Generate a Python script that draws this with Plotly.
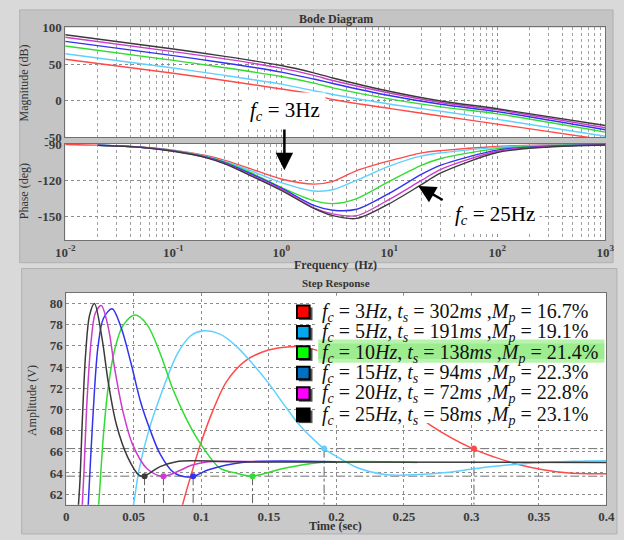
import plotly.graph_objects as go

W, H = 624, 540

# ---------------- Bode data ----------------
freq_mag = [0.01, 0.1, 0.3, 1, 2, 3, 10, 30, 100, 1000]
mag_red = [56.6, 37.5, 27.5, 16, 8.5, 1.5, -10.5, -21, -32, -53.5]
mag_cyan = [64, 44.5, 34.5, 22.5, 13.5, 8.5, -4.5, -14.5, -25.5, -48.6]
mag_green = [74.7, 55, 45, 33, 24, 17.5, 2.5, -8.5, -18, -42.9]
mag_blue = [81, 61.5, 51.5, 39, 29.5, 23.5, 7, -5, -15, -39.8]
mag_magenta = [86.6, 67, 57, 44.5, 34.5, 27.5, 10.5, -2.5, -12.6, -37]
mag_black = [90, 70.5, 60.5, 48, 38, 31, 12.8, -0.5, -11, -34]

freq_ph = [0.01, 0.02, 0.05, 0.1, 0.2, 0.3, 0.5, 1, 2, 3, 5, 10, 20, 30, 100, 300, 1000]
ph_red = [-90.3, -90.9, -92.4, -95.0, -99.5, -103.5, -110, -119, -123.3, -121, -112, -104, -97.3, -95.4, -92, -90.8, -90.3]
ph_cyan = [-90.3, -91.0, -92.5, -95.2, -100, -104.5, -111.5, -122, -129, -128, -120, -108.3, -99.8, -97.3, -92.7, -91, -90.4]
ph_green = [-90.3, -91.0, -92.6, -95.5, -100.5, -105, -113, -126, -137, -139.5, -135.3, -121, -107.5, -102, -93.8, -91.3, -90.5]
ph_blue = [-90.3, -91.0, -92.6, -95.6, -100.7, -105.5, -114, -126.6, -141, -145, -144.2, -131, -115, -107.5, -95, -91.7, -90.6]
ph_magenta = [-90.3, -91.1, -92.7, -95.8, -101, -106, -115, -127.5, -143, -148, -149.5, -136, -120, -111, -96, -92, -90.7]
ph_black = [-90.3, -91.1, -92.7, -96.0, -101.2, -106.5, -115.5, -128.5, -143.5, -149.5, -151.8, -139.5, -123.5, -114, -97, -92.4, -90.8]

freq_ticks = [0.01, 0.1, 1, 10, 100, 1000]
freq_ticktext = ["10<sup>-2</sup>", "10<sup>-1</sup>", "10<sup>0</sup>", "10<sup>1</sup>", "10<sup>2</sup>", "10<sup>3</sup>"]
mag_ticks = [100, 50, 0, -50]
ph_ticks = [-90, -120, -150]

# ---------------- Step response data ----------------
t_red = [0.083, 0.0862, 0.0922, 0.0994, 0.109, 0.1186, 0.1329, 0.1497, 0.1641, 0.175, 0.19, 0.21, 0.23, 0.25, 0.2694, 0.301, 0.3173, 0.3365, 0.3532, 0.3724, 0.4]
v_red = [59.0, 61.0, 63.7, 66.7, 70.0, 72.6, 74.6, 75.6, 75.9, 75.9, 75.4, 74.2, 72.5, 70.5, 68.55, 66.3, 65.5, 64.75, 64.3, 64.0, 63.92]
t_cyan = [0.047, 0.0498, 0.0539, 0.0611, 0.0707, 0.0826, 0.0922, 0.1006, 0.1138, 0.1257, 0.1377, 0.1497, 0.1616, 0.1736, 0.188, 0.1909, 0.2024, 0.2167, 0.236, 0.2503, 0.2814, 0.3053, 0.3412, 0.377, 0.4]
v_cyan = [59.5, 61.0, 64.3, 68.0, 71.6, 75.3, 76.95, 77.4, 77.1, 76.0, 74.35, 72.5, 70.4, 68.4, 66.6, 66.3, 65.4, 64.45, 63.85, 63.8, 64.05, 64.45, 64.9, 65.1, 65.15]
t_green = [0.0225, 0.024, 0.0276, 0.0312, 0.036, 0.042, 0.0508, 0.0599, 0.0695, 0.079, 0.0886, 0.0982, 0.1138, 0.1257, 0.1372, 0.1616, 0.188, 0.26]
v_green = [59.0, 61.0, 67.65, 72.2, 75.7, 77.9, 78.9, 78.0, 75.3, 71.9, 69.2, 67.0, 64.45, 64.0, 63.7, 64.45, 65.0, 65.0]
t_blue = [0.0155, 0.0163, 0.0197, 0.0235, 0.0276, 0.034, 0.0407, 0.0479, 0.0551, 0.0623, 0.0695, 0.079, 0.089, 0.0946, 0.1054, 0.13, 0.2]
v_blue = [59.5, 61.0, 69.2, 75.9, 78.6, 79.5, 77.7, 74.4, 70.7, 68.0, 65.8, 64.1, 63.62, 63.7, 64.3, 65.0, 65.05]
t_magenta = [0.0115, 0.0132, 0.0156, 0.0187, 0.0216, 0.0259, 0.0312, 0.036, 0.042, 0.0491, 0.0599, 0.0718, 0.0934, 0.1054, 0.15]
v_magenta = [60.0, 64.3, 71.3, 76.8, 79.1, 79.8, 77.7, 73.75, 69.8, 66.7, 64.4, 63.7, 64.75, 65.05, 65.05]
t_black = [0.0085, 0.0101, 0.012, 0.0144, 0.0173, 0.0209, 0.0264, 0.0312, 0.0371, 0.0455, 0.0539, 0.0575, 0.0695, 0.0815, 0.095, 0.13, 0.4]
v_black = [60.0, 63.1, 69.2, 75.3, 78.9, 80.0, 76.8, 72.5, 68.6, 65.5, 63.8, 63.7, 64.6, 65.06, 65.15, 65.05, 65.0]

fc_hz = [3, 5, 10, 15, 20, 25]
ts_ms = [302, 191, 138, 94, 72, 58]
mp_pct = [16.7, 19.1, 21.4, 22.3, 22.8, 23.1]
ts_level = [66.3, 66.3, 63.7, 63.7, 63.7, 63.7]
band_upper = 66.3
band_lower = 63.7

line_colors = ["#ff4a4a", "#5fd0ff", "#2fdc2f", "#3232f0", "#cc3ccc", "#3a3a3a"]
square_colors = ["#ff0000", "#00a8f0", "#00ff00", "#0070c0", "#ff00ff", "#000000"]

mag_series = [mag_red, mag_cyan, mag_green, mag_blue, mag_magenta, mag_black]
ph_series = [ph_red, ph_cyan, ph_green, ph_blue, ph_magenta, ph_black]
t_series = [t_red, t_cyan, t_green, t_blue, t_magenta, t_black]
v_series = [v_red, v_cyan, v_green, v_blue, v_magenta, v_black]


def px(x):
    return x / W


def py(y):
    return 1 - y / H


# plot-area pixel boxes (x0, x1, ytop, ybottom)
BOX_MAG = (57, 614, 21, 134)
BOX_PH = (57, 614, 141, 240)
BOX_STEP = (58, 615, 294, 512)

fig = go.Figure()

# Bode magnitude / phase
for i in range(6):
    fig.add_trace(go.Scatter(x=freq_mag, y=mag_series[i], mode="lines", xaxis="x", yaxis="y",
                             line=dict(color=line_colors[i], width=1.4, shape="spline", smoothing=0.8),
                             hoverinfo="skip", showlegend=False))
for i in range(6):
    fx = freq_ph if i == 0 else freq_ph[1:]
    fy = ph_series[i] if i == 0 else ph_series[i][1:]
    fig.add_trace(go.Scatter(x=fx, y=fy, mode="lines", xaxis="x2", yaxis="y2",
                             line=dict(color=line_colors[i], width=1.4, shape="spline", smoothing=0.8),
                             hoverinfo="skip", showlegend=False))

# Step response: settling band lines
fig.add_trace(go.Scatter(x=[0, 0.4, None, 0, 0.4], y=[band_upper, band_upper, None, band_lower, band_lower],
                         mode="lines", xaxis="x3", yaxis="y3",
                         line=dict(color="#707070", width=1, dash="dashdot"), hoverinfo="skip", showlegend=False))
vx, vy = [], []
for t, v in zip(ts_ms, ts_level):
    vx += [t / 1000, t / 1000, None]
    vy += [v, 61, None]
fig.add_trace(go.Scatter(x=vx, y=vy, mode="lines", xaxis="x3", yaxis="y3",
                         line=dict(color="#606060", width=1, dash="dashdot"), hoverinfo="skip", showlegend=False))

for i in range(6):
    fig.add_trace(go.Scatter(x=t_series[i], y=v_series[i], mode="lines", xaxis="x3", yaxis="y3",
                             line=dict(color=line_colors[i], width=1.5, shape="spline", smoothing=0.9),
                             hoverinfo="skip", showlegend=False))
for i in range(6):
    fig.add_trace(go.Scatter(x=[ts_ms[i] / 1000], y=[ts_level[i]], mode="markers", xaxis="x3", yaxis="y3",
                             marker=dict(color=line_colors[i], size=6), hoverinfo="skip", showlegend=False))

tickfont = dict(family="Liberation Serif", size=13, color="#3c3c3c", weight="bold")
grid_major = dict(showgrid=True, gridcolor="#8c8c8c", griddash="dot", gridwidth=1)
axline = dict(showline=True, mirror=True, linecolor="#707070", linewidth=1, zeroline=False)
minor_log = dict(dtick="D1", showgrid=True, gridcolor="#a0a0a0", griddash="dot", ticks="")

fig.update_layout(
    width=W, height=H, margin=dict(l=0, r=0, t=0, b=0),
    paper_bgcolor="#d9d9d9", plot_bgcolor="#ffffff",
    xaxis=dict(domain=[px(BOX_MAG[0]), px(BOX_MAG[1])], type="log", range=[-2, 3], anchor="y",
               tickvals=freq_ticks, ticktext=freq_ticktext, showticklabels=False,
               minor=minor_log, **grid_major, **axline),
    yaxis=dict(domain=[py(BOX_MAG[3]), py(BOX_MAG[2])], range=[-50, 100], anchor="x",
               tickvals=mag_ticks, ticktext=[str(v) for v in mag_ticks], tickfont=tickfont,
               **grid_major, **axline),
    xaxis2=dict(domain=[px(BOX_PH[0]), px(BOX_PH[1])], type="log", range=[-2, 3], anchor="y2",
                tickvals=freq_ticks, ticktext=freq_ticktext, tickfont=tickfont,
                minor=minor_log, **grid_major, **axline),
    yaxis2=dict(domain=[py(BOX_PH[3]), py(BOX_PH[2])], range=[-170, -90], anchor="x2",
                tickvals=ph_ticks, ticktext=[str(v) for v in ph_ticks], tickfont=tickfont,
                **grid_major, **axline),
    xaxis3=dict(domain=[px(BOX_STEP[0]), px(BOX_STEP[1])], range=[0, 0.4], anchor="y3", dtick=0.05, tick0=0,
                tickfont=tickfont, **grid_major, **axline),
    yaxis3=dict(domain=[py(BOX_STEP[3]), py(BOX_STEP[2])], range=[61, 81], anchor="x3", dtick=2, tick0=62,
                tickfont=tickfont, **grid_major, **axline),
)

shapes = [
    # panels
    dict(type="rect", xref="paper", yref="paper", x0=px(10), x1=px(622), y0=py(263), y1=py(3),
         fillcolor="#c4c4c4", line=dict(color="#b0b0b0", width=1), layer="below"),
    dict(type="rect", xref="paper", yref="paper", x0=px(12), x1=px(626), y0=py(542), y1=py(269),
         fillcolor="#c9c9c9", line=dict(color="#b0b0b0", width=1), layer="below"),
]
for b in (BOX_MAG, BOX_PH, BOX_STEP):
    shapes.append(dict(type="rect", xref="paper", yref="paper", x0=px(b[0]), x1=px(b[1]),
                       y0=py(b[3]), y1=py(b[2]), fillcolor="#ffffff", line=dict(width=0), layer="below"))
shapes += [
    # legend white box
    dict(type="rect", xref="paper", yref="paper", x0=px(317), x1=px(612), y0=py(428), y1=py(297),
         fillcolor="#ffffff", line=dict(width=0), layer="above"),
    # highlighted row
    dict(type="rect", xref="paper", yref="paper", x0=px(318), x1=px(613), y0=py(366), y1=py(342),
         fillcolor="#b8f3ae", line=dict(width=0), layer="above"),
    dict(type="rect", xref="paper", yref="paper", x0=px(318), x1=px(613), y0=py(362), y1=py(346),
         fillcolor="#9ded90", line=dict(width=0), layer="above"),
]
row_y = [314, 335, 356, 377, 398, 420]
for i in range(6):
    yc = row_y[i]
    shapes.append(dict(type="rect", xref="paper", yref="paper", x0=px(298), x1=px(312),
                       y0=py(yc + 8), y1=py(yc - 5), fillcolor="#555555", line=dict(width=0), layer="above"))
    shapes.append(dict(type="rect", xref="paper", yref="paper", x0=px(296), x1=px(309),
                       y0=py(yc + 6), y1=py(yc - 7), fillcolor=square_colors[i],
                       line=dict(color="#000000", width=2), layer="above"))
fig.update_layout(shapes=shapes)

afont = dict(family="Liberation Serif", color="#333333")


def label(text, x, y, size=12, bold=False, angle=0):
    f = dict(size=size, **afont)
    if bold:
        f["weight"] = "bold"
    return dict(text=text, x=px(x), y=py(y), xref="paper", yref="paper", showarrow=False,
                xanchor="center", yanchor="middle", textangle=angle, font=f)


annotations = [
    label("Bode Diagram", 336, 12, 12, True),
    label("Frequency  (Hz)", 336, 265, 12, True),
    label("Magnitude (dB)", 14, 78, 12, False, -90),
    label("Phase (deg)", 14, 190, 12, False, -90),
    label("Step Response", 336, 284, 11, True),
    label("Amplitude (V)", 22, 405, 12, False, -90),
    label("Time (sec)", 336, 534, 12, True),
    # Bode callouts
    dict(text="", x=px(283), y=py(168), xref="paper", yref="paper", showarrow=True,
         ax=0, ay=-46, arrowhead=2, arrowsize=1.4, arrowwidth=2.5, arrowcolor="#000000"),
    dict(text="<i>f</i><sub><i>c</i></sub> = %dHz" % fc_hz[0], x=px(284), y=py(107), xref="paper", yref="paper",
         xanchor="center", yanchor="middle",
         showarrow=False, bgcolor="#ffffff", borderpad=5,
         font=dict(family="Liberation Serif", size=21, color="#000000")),
    dict(text="", x=px(421), y=py(184), xref="paper", yref="paper", showarrow=True,
         ax=26, ay=15, arrowhead=2, arrowsize=1.4, arrowwidth=2.5, arrowcolor="#000000"),
    dict(text="<i>f</i><sub><i>c</i></sub> = %dHz" % fc_hz[-1], x=px(500), y=py(214), xref="paper", yref="paper",
         xanchor="center", yanchor="middle",
         showarrow=False, bgcolor="#ffffff", borderpad=4,
         font=dict(family="Liberation Serif", size=21, color="#000000")),
]
for i in range(6):
    txt = ("<i>f</i><sub><i>c</i></sub> = %d<i>Hz</i>, <i>t</i><sub><i>s</i></sub> = %d<i>ms</i> ,"
           "<i>M</i><sub><i>p</i></sub> = %.1f%%") % (fc_hz[i], ts_ms[i], mp_pct[i])
    annotations.append(dict(text=txt, x=px(320), y=py(row_y[i]), xref="paper", yref="paper",
                            xanchor="left", yanchor="middle", showarrow=False,
                            font=dict(family="Liberation Serif", size=20, color="#111111")))
fig.update_layout(annotations=annotations)

fig.write_html("out.html")
